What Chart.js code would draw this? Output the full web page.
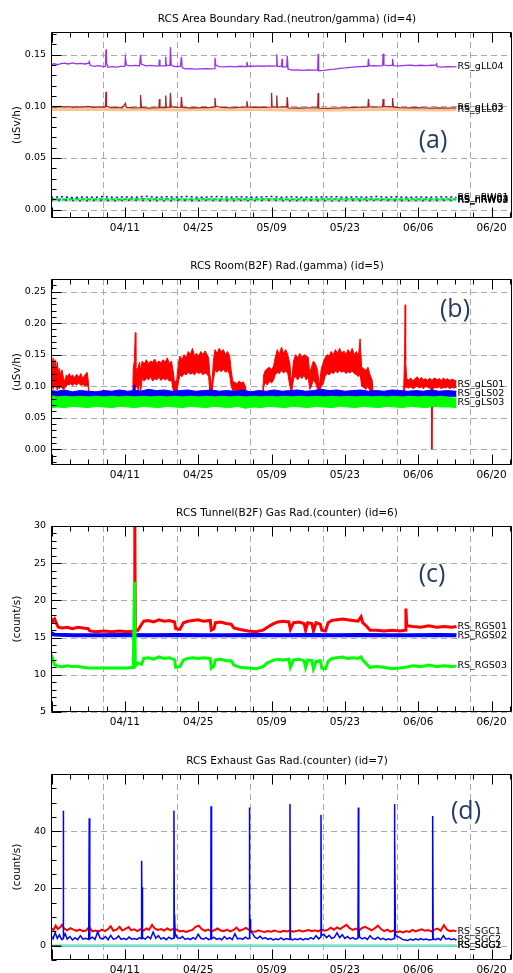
<!DOCTYPE html>
<html>
<head>
<meta charset="utf-8">
<script src="https://cdn.jsdelivr.net/npm/chart.js@4.4.1/dist/chart.umd.min.js"></script>
<style>
  html, body { margin: 0; padding: 0; background: #fff; width: 513px; height: 973px; overflow: hidden; }
  canvas { position: absolute; left: 0; }
</style>
</head>
<body>
<canvas id="chartA" width="513" height="248" style="top:0"></canvas>
<canvas id="chartB" width="513" height="248" style="top:247px"></canvas>
<canvas id="chartC" width="513" height="248" style="top:494px"></canvas>
<canvas id="chartD" width="513" height="248" style="top:742px"></canvas>
<script>
// ---- time axis (days counted from 04/01) ----
const X_MIN = -4.1, X_MAX = 83.9;
const xTickDays = [10, 24, 38, 52, 66, 80];
const xTickLabels = ['04/11', '04/25', '05/09', '05/23', '06/06', '06/20'];
const gridDays = [5.9, 19.9, 33.9, 47.9, 61.9, 75.9];

// ---- (a) area boundary, uSv/h : [day, value] ----
const gLL04 = [[-4.1,0.1405],[-3.5,0.1412],[-2.8,0.1404],[-2.2,0.1414],[-1.5,0.1418],[-0.8,0.1410],[0,0.1420],[0.8,0.1412],[1.5,0.1416],[2.4,0.1410],[3.1,0.1418],[3.2,0.1432],[3.4,0.1395],[4.2,0.1388],[5.0,0.1394],[5.9,0.1385],[6.3,0.1386],[6.4,0.1550],[6.5,0.1420],[6.8,0.1378],[7.6,0.1384],[8.4,0.1380],[9.2,0.1386],[10.0,0.1388],[10.1,0.1470],[10.3,0.1400],[11.0,0.1392],[12.0,0.1396],[12.8,0.1392],[13.0,0.1500],[13.15,0.1410],[14.0,0.1392],[15.0,0.1396],[16.0,0.1390],[16.5,0.1392],[16.6,0.1452],[16.7,0.1395],[17.7,0.1392],[17.8,0.1480],[17.9,0.1398],[18.6,0.1395],[18.7,0.1575],[18.85,0.1400],[19.5,0.1385],[20.6,0.1388],[20.8,0.1480],[20.95,0.1375],[21.5,0.1362],[22.5,0.1366],[23.5,0.1360],[24.5,0.1363],[25.5,0.1366],[26.5,0.1362],[27.1,0.1365],[27.2,0.1470],[27.35,0.1400],[28.0,0.1385],[29.0,0.1382],[30.0,0.1386],[31.0,0.1382],[32.0,0.1388],[33.2,0.1385],[33.3,0.1430],[33.45,0.1390],[34.5,0.1388],[35.5,0.1392],[36.5,0.1388],[37.5,0.1392],[38.5,0.1390],[38.9,0.1395],[39.0,0.1503],[39.1,0.1385],[39.9,0.1390],[40.0,0.1460],[40.1,0.1380],[40.9,0.1385],[41.0,0.1490],[41.15,0.1360],[42.0,0.1350],[43.0,0.1353],[44.0,0.1348],[45.0,0.1352],[46.0,0.1350],[46.8,0.1352],[46.9,0.1510],[47.0,0.1345],[48.0,0.1348],[49.0,0.1355],[50.0,0.1360],[51.0,0.1368],[52.0,0.1372],[53.0,0.1378],[54.0,0.1382],[55.0,0.1385],[56.4,0.1388],[56.5,0.1460],[56.65,0.1392],[57.5,0.1395],[58.5,0.1392],[59.2,0.1395],[59.3,0.1510],[59.45,0.1400],[60.3,0.1395],[61.0,0.1398],[61.1,0.1460],[61.25,0.1395],[62.5,0.1392],[63.5,0.1396],[64.5,0.1398],[65.5,0.1395],[66.5,0.1398],[67.5,0.1395],[68.5,0.1398],[69.4,0.1400],[69.5,0.1420],[69.6,0.1385],[70.5,0.1380],[71.5,0.1385],[72.5,0.1382],[73.3,0.1385]];
const gLL03 = [[-4.1,0.0995],[-3.2,0.0990],[-2.4,0.0998],[-1.6,0.0992],[-0.8,0.0996],[0,0.0990],[1,0.0995],[2,0.0992],[3,0.0998],[4,0.0990],[5,0.0994],[6.3,0.0992],[6.4,0.1140],[6.5,0.1000],[7.5,0.0985],[8.5,0.0990],[9.5,0.0986],[10.1,0.1030],[10.3,0.0990],[11.5,0.0985],[12.9,0.0988],[13.0,0.1110],[13.15,0.0990],[14.5,0.0982],[15.5,0.0985],[16.5,0.0988],[16.6,0.1070],[16.7,0.0990],[17.7,0.0988],[17.8,0.1105],[17.9,0.0992],[18.6,0.0990],[18.7,0.1130],[18.85,0.0995],[19.8,0.0990],[20.7,0.0992],[20.8,0.1090],[20.95,0.0990],[22,0.0985],[23,0.0988],[24,0.0985],[25,0.0990],[26,0.0988],[27.1,0.0992],[27.2,0.1080],[27.35,0.1000],[28.5,0.0990],[29.5,0.0988],[30.5,0.0985],[31.5,0.0990],[33.2,0.0992],[33.3,0.1050],[33.45,0.0995],[34.5,0.0990],[35.5,0.0992],[36.5,0.0990],[37.9,0.0992],[38.0,0.1130],[38.1,0.0995],[38.9,0.0992],[39.0,0.1105],[39.1,0.0990],[40,0.0995],[40.9,0.0992],[41.0,0.1090],[41.15,0.0985],[42,0.0982],[43,0.0985],[44,0.0982],[45,0.0985],[46.8,0.0985],[46.9,0.1130],[47.0,0.0982],[48.5,0.0980],[50,0.0982],[51.5,0.0985],[53,0.0988],[54.5,0.0990],[56.4,0.0992],[56.5,0.1070],[56.65,0.0995],[57.5,0.0992],[59.2,0.0995],[59.3,0.1070],[59.45,0.0998],[61.0,0.0995],[61.1,0.1080],[61.25,0.0992],[62.5,0.0988],[64,0.0985],[65.5,0.0988],[67,0.0985],[68.5,0.0982],[70,0.0985],[71.5,0.0982],[73.3,0.0985]];
const gLL02 = [[-4.1,0.0970],[0,0.0968],[5,0.0970],[10,0.0966],[15,0.0968],[20,0.0965],[25,0.0968],[30,0.0966],[35,0.0968],[40,0.0965],[45,0.0963],[50,0.0965],[55,0.0967],[60,0.0968],[65,0.0966],[70,0.0965],[73.3,0.0966]];
const nRW01 = [[-4.1,0.0118],[-2,0.0125],[0,0.0115],[2,0.0122],[4,0.0118],[6,0.0126],[8,0.0117],[10,0.0123],[12,0.0119],[14,0.0128],[16,0.0118],[18,0.0124],[20,0.0120],[22,0.0127],[24,0.0118],[26,0.0123],[28,0.0126],[30,0.0119],[32,0.0124],[34,0.0118],[36,0.0122],[38,0.0127],[40,0.0119],[42,0.0124],[44,0.0118],[46,0.0122],[48,0.0120],[50,0.0125],[52,0.0118],[54,0.0123],[56,0.0119],[58,0.0126],[60,0.0120],[62,0.0124],[64,0.0118],[66,0.0122],[68,0.0119],[70,0.0123],[73.3,0.0120]];
const nRW02 = [[-4.1,0.0086],[-1,0.0090],[2,0.0084],[5,0.0088],[8,0.0085],[11,0.0090],[14,0.0086],[17,0.0083],[20,0.0088],[23,0.0085],[26,0.0090],[29,0.0084],[32,0.0087],[35,0.0085],[38,0.0089],[41,0.0084],[44,0.0088],[47,0.0086],[50,0.0083],[53,0.0087],[56,0.0085],[59,0.0089],[62,0.0084],[65,0.0087],[68,0.0085],[71,0.0088],[73.3,0.0086]];
const nRW03 = [[-4.1,0.0101],[-1.5,0.0098],[1,0.0103],[3.5,0.0099],[6,0.0102],[8.5,0.0097],[11,0.0101],[13.5,0.0104],[16,0.0099],[18.5,0.0102],[21,0.0098],[23.5,0.0101],[26,0.0103],[28.5,0.0099],[31,0.0102],[33.5,0.0098],[36,0.0101],[38.5,0.0104],[41,0.0099],[43.5,0.0101],[46,0.0098],[48.5,0.0102],[51,0.0100],[53.5,0.0103],[56,0.0099],[58.5,0.0101],[61,0.0098],[63.5,0.0102],[66,0.0100],[68.5,0.0099],[71,0.0101],[73.3,0.0100]];
const nRW04 = [[-4.1,0.0094],[5,0.0093],[15,0.0095],[25,0.0093],[35,0.0094],[45,0.0093],[55,0.0095],[65,0.0093],[73.3,0.0094]];

// ---- (b) room B2F, uSv/h : [day, low, high] of the noise band ----
const gLS01 = [[-4.1,0.092,0.140],[-3.9,0.100,0.128],[-3.7,0.095,0.145],[-3.5,0.102,0.130],[-3.3,0.098,0.142],[-3.1,0.100,0.125],[-2.9,0.094,0.138],[-2.7,0.099,0.120],[-2.5,0.096,0.128],[-2.3,0.100,0.118],[-2.0,0.097,0.126],[-1.7,0.095,0.112],[-1.4,0.098,0.108],[-1.2,0.100,0.118],[-0.9,0.103,0.115],[-0.6,0.102,0.120],[-0.3,0.104,0.114],[0,0.101,0.118],[0.4,0.104,0.113],[0.8,0.102,0.119],[1.2,0.105,0.114],[1.6,0.101,0.120],[2.0,0.103,0.112],[2.4,0.100,0.118],[2.8,0.102,0.122],[3.0,0.098,0.110],[3.2,0.076,0.086],[5,0.075,0.087],[7,0.074,0.086],[9,0.076,0.087],[11.5,0.075,0.086],[11.6,0.090,0.128],[11.8,0.095,0.140],[12.0,0.100,0.185],[12.1,0.098,0.130],[12.3,0.100,0.125],[12.6,0.092,0.132],[12.8,0.110,0.138],[13.0,0.090,0.125],[13.3,0.112,0.140],[13.7,0.108,0.135],[14.1,0.113,0.142],[14.5,0.110,0.136],[14.9,0.115,0.140],[15.3,0.108,0.138],[15.7,0.112,0.143],[16.1,0.110,0.136],[16.5,0.114,0.140],[16.9,0.109,0.137],[17.3,0.113,0.142],[17.7,0.110,0.138],[18.1,0.112,0.145],[18.5,0.108,0.136],[18.9,0.110,0.140],[19.2,0.095,0.125],[19.5,0.088,0.105],[19.9,0.090,0.110],[20.2,0.105,0.135],[20.5,0.118,0.148],[20.9,0.115,0.142],[21.3,0.120,0.150],[21.7,0.118,0.145],[22.1,0.122,0.155],[22.5,0.119,0.150],[22.9,0.121,0.160],[23.3,0.118,0.148],[23.7,0.123,0.152],[24.1,0.120,0.148],[24.5,0.122,0.155],[24.9,0.118,0.150],[25.3,0.121,0.156],[25.7,0.119,0.150],[26.0,0.115,0.145],[26.2,0.092,0.120],[26.6,0.088,0.100],[26.9,0.110,0.140],[27.2,0.125,0.158],[27.6,0.122,0.152],[28.0,0.126,0.160],[28.4,0.123,0.155],[28.8,0.127,0.158],[29.2,0.122,0.150],[29.6,0.125,0.155],[30.0,0.118,0.148],[30.3,0.100,0.125],[30.6,0.093,0.108],[31.0,0.092,0.106],[31.4,0.094,0.104],[31.8,0.091,0.108],[32.2,0.093,0.105],[32.6,0.092,0.107],[33.0,0.090,0.100],[33.2,0.076,0.087],[35,0.075,0.086],[36.3,0.076,0.087],[36.5,0.100,0.118],[36.8,0.105,0.125],[37.2,0.102,0.128],[37.6,0.108,0.130],[38.0,0.105,0.126],[38.4,0.110,0.132],[38.7,0.118,0.145],[39.1,0.122,0.158],[39.5,0.120,0.150],[39.9,0.125,0.162],[40.3,0.121,0.152],[40.7,0.124,0.158],[41.1,0.120,0.150],[41.5,0.100,0.135],[41.8,0.088,0.105],[42.2,0.112,0.140],[42.6,0.115,0.150],[43.0,0.110,0.145],[43.4,0.116,0.152],[43.8,0.112,0.145],[44.2,0.118,0.150],[44.6,0.110,0.148],[45.0,0.114,0.146],[45.3,0.095,0.120],[45.6,0.100,0.130],[46.0,0.110,0.140],[46.4,0.105,0.135],[46.8,0.095,0.125],[47.1,0.088,0.100],[47.5,0.100,0.128],[47.9,0.105,0.138],[48.2,0.115,0.145],[48.6,0.120,0.150],[49.0,0.118,0.148],[49.4,0.122,0.155],[49.8,0.120,0.150],[50.2,0.124,0.158],[50.6,0.121,0.152],[51.0,0.125,0.160],[51.4,0.122,0.152],[51.8,0.124,0.156],[52.2,0.120,0.150],[52.6,0.123,0.158],[53.0,0.121,0.152],[53.4,0.124,0.160],[53.8,0.120,0.150],[54.2,0.118,0.155],[54.6,0.115,0.148],[54.9,0.120,0.175],[55.2,0.100,0.130],[55.6,0.098,0.128],[56.0,0.095,0.125],[56.4,0.100,0.130],[56.8,0.092,0.118],[57.2,0.090,0.110],[57.4,0.076,0.087],[60,0.075,0.086],[63.2,0.076,0.087],[63.4,0.095,0.150],[63.5,0.098,0.229],[63.6,0.100,0.140],[63.8,0.098,0.112],[64.2,0.097,0.110],[64.6,0.099,0.113],[65.0,0.096,0.108],[65.4,0.098,0.112],[65.8,0.100,0.115],[66.2,0.097,0.110],[66.6,0.099,0.114],[67.0,0.096,0.110],[67.4,0.100,0.112],[67.8,0.098,0.109],[68.2,0.097,0.113],[68.5,0.096,0.110],[68.6,0.000,0.108],[68.7,0.065,0.110],[68.8,0.096,0.111],[69.2,0.098,0.113],[69.6,0.097,0.110],[70.0,0.099,0.112],[70.4,0.096,0.109],[70.8,0.098,0.113],[71.2,0.097,0.110],[71.6,0.099,0.112],[72.0,0.096,0.109],[72.4,0.098,0.111],[72.8,0.097,0.110],[73.3,0.098,0.108]];
const gLS02 = [[-4.1,0.082,0.093],[-3,0.084,0.092],[-1.5,0.083,0.094],[0,0.084,0.091],[1.5,0.083,0.093],[3,0.084,0.092],[4.5,0.083,0.091],[6,0.084,0.093],[7.5,0.083,0.092],[9,0.084,0.094],[10.5,0.083,0.092],[11.7,0.084,0.093],[11.8,0.085,0.102],[11.9,0.084,0.094],[13,0.083,0.092],[14.5,0.084,0.095],[16,0.083,0.093],[17.5,0.084,0.094],[19,0.083,0.092],[20.5,0.084,0.093],[22,0.083,0.094],[23.5,0.084,0.092],[25,0.083,0.093],[26.5,0.084,0.094],[28,0.083,0.092],[29.5,0.084,0.093],[31,0.083,0.092],[32.5,0.084,0.094],[34,0.083,0.091],[35.5,0.084,0.093],[37,0.083,0.092],[38.5,0.084,0.094],[40,0.083,0.092],[41.5,0.084,0.093],[43,0.083,0.094],[44.5,0.084,0.092],[46,0.083,0.093],[47.5,0.084,0.095],[49,0.083,0.093],[50.5,0.084,0.094],[52,0.083,0.092],[53.5,0.084,0.093],[55,0.083,0.094],[56.5,0.084,0.092],[58,0.083,0.093],[59.5,0.084,0.092],[61,0.083,0.094],[62.5,0.084,0.093],[64,0.083,0.092],[65.5,0.084,0.093],[67,0.083,0.092],[68.5,0.084,0.094],[70,0.083,0.092],[71.5,0.084,0.093],[73.3,0.084,0.092]];
const gLS03 = [[-4.1,0.065,0.085],[-3,0.067,0.083],[-1.5,0.066,0.084],[0,0.068,0.083],[1.5,0.067,0.084],[3,0.066,0.083],[4.5,0.068,0.084],[6,0.067,0.083],[7.5,0.066,0.084],[9,0.068,0.083],[10.5,0.067,0.084],[12,0.066,0.083],[13.5,0.068,0.084],[15,0.067,0.083],[16.5,0.066,0.084],[18,0.068,0.083],[19.5,0.067,0.084],[21,0.066,0.083],[22.5,0.068,0.084],[24,0.067,0.083],[25.5,0.066,0.084],[27,0.068,0.083],[28.5,0.067,0.084],[30,0.066,0.083],[31.5,0.068,0.084],[33,0.065,0.083],[34.5,0.067,0.084],[36,0.066,0.083],[37.5,0.068,0.084],[39,0.067,0.083],[40.5,0.066,0.084],[42,0.068,0.083],[43.5,0.067,0.084],[45,0.066,0.083],[46.5,0.068,0.084],[48,0.067,0.083],[49.5,0.066,0.084],[51,0.068,0.083],[52.5,0.067,0.084],[54,0.066,0.083],[55.5,0.068,0.084],[57,0.067,0.083],[58.5,0.066,0.084],[60,0.068,0.083],[61.5,0.067,0.084],[63,0.066,0.083],[64.5,0.068,0.084],[66,0.067,0.083],[67.5,0.066,0.084],[69,0.068,0.083],[70.5,0.067,0.084],[72,0.067,0.082],[73.3,0.066,0.081]];

// ---- (c) tunnel B2F gas monitor, count/s : [day, value] ----
const RGS01 = [[-4.1,17.6],[-3.7,17.2],[-3.4,17.5],[-3.0,16.8],[-2.7,16.4],[-2,16.3],[-1,16.4],[0,16.2],[1,16.4],[2,16.3],[3,16.2],[3.3,15.9],[4.5,15.8],[6,15.9],[7.5,15.8],[9,15.9],[10.5,15.8],[11.8,15.9],[11.9,30],[12.0,16.0],[12.5,16.0],[13.2,16.8],[13.6,17.2],[14.5,17.3],[15.5,17.1],[16.5,17.4],[17.5,17.2],[18.5,17.3],[19.5,17.1],[19.7,16.2],[20.5,16.1],[21.2,17.0],[22,17.2],[23,17.3],[24,17.4],[25,17.2],[26.3,17.3],[26.5,16.0],[27,16.2],[27.3,17.0],[28.3,17.1],[29.3,16.9],[30.3,16.8],[30.8,16.3],[32,16.1],[33.5,15.9],[35,15.8],[36.4,16.0],[37.2,16.4],[38.2,16.8],[39.2,17.1],[40.2,17.2],[41.3,17.1],[41.6,16.1],[42.2,17.0],[43.2,17.1],[44.2,16.9],[44.5,16.0],[44.9,17.0],[45.7,16.9],[46.0,15.9],[46.5,17.0],[47.3,16.8],[47.6,16.0],[48.3,15.9],[48.8,17.0],[49.5,17.3],[50.5,17.4],[51.5,17.5],[52.5,17.4],[53.5,17.3],[54.5,17.2],[55.1,17.8],[55.4,17.0],[56.2,16.5],[56.8,16.0],[58,16.0],[59.5,15.9],[61,16.0],[62.5,15.9],[63.5,16.0],[63.65,18.9],[63.8,16.6],[65,16.5],[66.5,16.4],[68,16.6],[69.5,16.4],[71,16.5],[72.5,16.4],[73.3,16.5]];
const RGS02 = [[-4.1,15.6],[-3.5,15.4],[0,15.3],[5,15.3],[10,15.35],[15,15.3],[20,15.35],[25,15.3],[30,15.3],[35,15.35],[40,15.3],[45,15.35],[50,15.3],[55,15.35],[60,15.3],[65,15.3],[70,15.35],[73.3,15.3]];
const RGS03 = [[-4.1,12.7],[-3.8,12.3],[-3.5,11.4],[-3,11.2],[-2,11.1],[-1,11.2],[0,11.1],[1,11.1],[2,11.0],[3,10.9],[4.5,10.9],[6,10.9],[7.5,10.9],[9,10.9],[10.5,10.9],[11.6,11.0],[11.85,22.5],[12.0,11.2],[12.5,11.6],[13.2,11.4],[13.6,12.2],[14.5,12.3],[15.5,12.1],[16.5,12.4],[17.5,12.2],[18.5,12.3],[19.5,12.0],[19.7,11.0],[20.5,11.1],[21.2,12.0],[22,12.2],[23,12.3],[24,12.2],[25,12.3],[26.3,12.2],[26.5,10.9],[27,11.2],[27.3,12.0],[28.3,12.1],[29.3,11.9],[30.3,11.9],[30.8,11.3],[32,11.0],[33.5,10.9],[35,10.8],[36.4,11.1],[37.2,11.6],[38.2,11.9],[39.2,12.1],[40.2,12.0],[41.3,12.1],[41.6,11.0],[42.2,12.0],[43.2,12.1],[44.2,11.9],[44.5,11.0],[44.9,12.0],[45.7,11.9],[46.0,10.8],[46.5,11.8],[47.3,11.9],[47.6,10.9],[48.3,10.8],[48.8,11.8],[49.5,12.2],[50.5,12.3],[51.5,12.4],[52.5,12.2],[53.5,12.3],[54.5,12.2],[55.1,12.4],[55.4,12.0],[56.2,11.4],[56.8,11.0],[58,11.1],[59.5,11.0],[61,10.8],[62.5,10.9],[63.5,11.0],[65,11.2],[66.5,11.1],[68,11.3],[69.5,11.1],[71,11.2],[72.5,11.1],[73.3,11.2]];

// ---- (d) exhaust gas monitor, count/s : [day, value] ----
const SGC1 = [[-4.1,6.2],[-3.6,5.5],[-3.2,7.0],[-2.8,5.8],[-2.3,6.5],[-2.0,7.3],[-1.6,6.0],[-1.0,5.4],[-0.4,6.1],[0.2,5.6],[0.8,5.2],[1.4,5.6],[2.0,5.1],[2.6,5.3],[3.2,6.5],[3.8,5.0],[4.4,5.3],[5.0,4.9],[5.6,5.6],[6.2,5.1],[6.8,5.8],[7.3,6.8],[7.8,5.2],[8.4,5.6],[9.0,6.6],[9.5,5.3],[10.1,5.9],[10.7,6.5],[11.2,5.4],[11.8,5.7],[12.4,5.1],[13.0,5.8],[13.6,5.3],[14.1,6.0],[14.6,5.5],[15.2,7.3],[15.7,6.0],[16.3,5.5],[16.9,5.8],[17.5,5.3],[18.1,6.0],[18.7,5.4],[19.3,5.9],[19.9,5.6],[20.5,5.0],[21.1,5.2],[21.7,4.8],[22.3,5.2],[22.9,5.5],[23.5,6.6],[24.1,7.0],[24.7,5.8],[25.3,5.2],[25.9,5.6],[26.5,5.1],[27.1,5.4],[27.7,6.0],[28.3,5.3],[28.9,5.1],[29.5,5.6],[30.1,5.0],[30.7,5.4],[31.3,6.3],[31.9,5.2],[32.5,5.6],[33.1,6.2],[33.7,5.5],[34.3,5.0],[34.9,4.9],[35.5,5.4],[36.1,5.0],[36.7,4.8],[37.3,5.1],[37.9,4.9],[38.5,5.3],[39.1,5.0],[39.7,4.8],[40.3,5.2],[40.9,5.0],[41.5,5.3],[42.1,4.9],[42.7,5.1],[43.3,5.4],[43.9,5.0],[44.5,5.2],[45.1,5.5],[45.7,5.1],[46.3,5.4],[46.9,5.0],[47.5,5.6],[48.1,5.2],[48.7,5.5],[49.3,6.3],[49.9,5.6],[50.5,6.4],[51.1,5.8],[51.7,6.6],[52.3,7.3],[52.9,6.1],[53.5,5.5],[54.1,6.0],[54.7,5.3],[55.3,6.2],[55.9,6.6],[56.5,6.0],[57.1,5.4],[57.7,6.1],[58.3,7.0],[58.9,5.8],[59.5,5.1],[60.1,5.6],[60.7,4.9],[61.3,5.3],[61.9,4.7],[62.5,5.0],[63.1,4.6],[63.7,5.1],[64.3,4.8],[64.9,5.5],[65.5,5.0],[66.1,5.4],[66.7,5.7],[67.3,5.2],[67.9,5.5],[68.5,5.0],[69.1,5.6],[69.7,6.0],[70.3,5.2],[70.9,7.2],[71.5,5.6],[72.1,5.1],[72.7,5.3],[73.3,5.0]];
const SGC2 = [[-4.1,3.5],[-3.7,2.4],[-3.3,4.6],[-2.9,2.5],[-2.5,3.8],[-2.1,2.2],[-1.8,2.6],[-1.75,47.2],[-1.7,2.8],[-1.4,4.2],[-1.0,2.3],[-0.5,3.2],[0.0,2.0],[0.5,2.8],[1.0,2.1],[1.5,3.5],[2.0,2.3],[2.5,2.6],[3.1,2.2],[3.2,44.5],[3.3,2.4],[3.8,3.0],[4.3,2.2],[4.8,4.8],[5.3,2.6],[5.8,2.4],[6.3,3.2],[6.8,2.1],[7.3,3.6],[7.8,2.3],[8.3,2.5],[8.8,3.4],[9.3,2.2],[9.8,2.6],[10.3,2.1],[10.8,3.0],[11.3,2.3],[11.8,2.5],[12.3,2.2],[12.8,2.8],[13.15,2.4],[13.2,29.7],[13.28,2.6],[13.33,20.4],[13.4,2.8],[13.9,2.3],[14.4,3.2],[14.9,2.4],[15.4,4.8],[15.9,2.6],[16.4,3.5],[16.9,2.3],[17.4,2.8],[17.9,2.1],[18.4,3.0],[18.9,2.4],[19.3,2.6],[19.37,47.2],[19.45,3.0],[19.5,10.8],[19.6,4.2],[20.0,2.8],[20.5,2.5],[21.0,3.2],[21.5,2.2],[22.0,2.6],[22.5,2.1],[23.0,2.8],[23.5,2.3],[24.0,4.0],[24.5,2.6],[25.0,2.3],[25.5,2.8],[26.0,2.1],[26.4,2.5],[26.45,48.7],[26.55,2.4],[27.0,3.0],[27.5,2.2],[28.0,2.6],[28.5,2.1],[29.0,3.2],[29.5,2.3],[30.0,2.8],[30.5,2.1],[31.0,4.2],[31.5,2.4],[32.0,2.6],[32.5,2.2],[33.0,3.0],[33.5,2.4],[33.7,2.6],[33.76,48.3],[33.85,3.5],[33.9,9.3],[34.0,5.0],[34.4,4.2],[34.8,3.0],[35.3,2.5],[35.8,3.3],[36.3,2.4],[36.8,2.8],[37.3,2.2],[37.8,2.6],[38.3,2.0],[38.8,2.4],[39.3,2.1],[39.8,2.7],[40.3,2.0],[40.8,2.5],[41.45,2.2],[41.52,49.5],[41.6,2.6],[42.0,2.0],[42.5,2.4],[43.0,2.1],[43.5,2.6],[44.0,2.0],[44.5,2.5],[45.0,2.2],[45.5,2.8],[46.0,2.3],[46.5,3.5],[47.0,2.4],[47.38,3.0],[47.44,45.8],[47.52,3.6],[48.0,4.0],[48.5,2.8],[49.0,3.6],[49.5,2.5],[50.0,3.0],[50.5,4.5],[51.0,2.8],[51.5,3.8],[52.0,2.5],[52.5,3.2],[53.0,2.4],[53.5,2.8],[54.0,2.3],[54.5,2.6],[54.57,48.3],[54.65,7.0],[54.8,3.0],[55.3,2.4],[55.8,2.8],[56.3,2.2],[56.8,3.5],[57.3,2.5],[57.8,2.3],[58.3,3.0],[58.8,2.2],[59.3,2.6],[59.8,2.0],[60.3,2.4],[60.8,2.1],[61.38,2.5],[61.44,49.5],[61.5,3.0],[61.56,38.5],[61.65,3.6],[62.0,3.2],[62.5,2.8],[63.0,2.2],[63.5,2.0],[64.0,1.8],[64.5,2.3],[65.0,1.9],[65.5,2.4],[66.0,2.0],[66.5,2.5],[67.0,2.1],[67.5,2.3],[68.0,2.0],[68.7,2.2],[68.76,45.3],[68.85,2.4],[69.3,2.1],[69.8,2.6],[70.3,2.0],[70.8,3.5],[71.3,2.3],[71.8,2.6],[72.3,2.1],[72.8,2.4],[73.3,2.0]];
const SGG1 = [[-2.1,0],[73.3,0]];
const SGG2 = [[-4.1,0],[73.3,0]];

// ---- helpers ----
const TEXT_FONT = 'DejaVu Sans';
const TITLE_X = 287;
const col = (arr, k) => arr.map(p => ({ x: p[0], y: p[k] }));

function line(data, color, width, extra) {
  return Object.assign({ data: col(data, 1), borderColor: color, backgroundColor: color,
    borderWidth: width, pointRadius: 0, fill: false, tension: 0 }, extra || {});
}
// noise band: low edge, then high edge filled down to it
function band(data, color, tag) {
  return [
    { data: col(data, 1), borderColor: color, borderWidth: 1, pointRadius: 0, fill: false },
    { data: col(data, 2), borderColor: color, backgroundColor: color, borderWidth: 1, pointRadius: 0, fill: '-1', tag: tag }
  ];
}

// IDL-style frame: dashed grid, boxed axes with inward ticks, trace names, panel letter
const idlFrame = {
  id: 'idlFrame',
  beforeDatasetsDraw(chart) {
    const { ctx, chartArea: a, scales: { x, y } } = chart;
    ctx.save();
    ctx.strokeStyle = '#aaaaaa';
    ctx.lineWidth = 1;
    ctx.setLineDash([6, 4]);
    ctx.beginPath();
    gridDays.forEach(d => {
      const px = Math.round(x.getPixelForValue(d)) + 0.5;
      ctx.moveTo(px, a.top); ctx.lineTo(px, a.bottom);
    });
    y.ticks.forEach(t => {
      const py = Math.round(y.getPixelForValue(t.value)) + 0.5;
      ctx.moveTo(a.left, py); ctx.lineTo(a.right, py);
    });
    ctx.stroke();
    ctx.restore();
  },
  afterDatasetsDraw(chart, args, o) {
    const { ctx, chartArea: a, scales: { x, y } } = chart;
    const L = Math.round(a.left) + 0.5, R = Math.round(a.right) - 0.5;
    const T = Math.round(a.top) + 0.5, B = Math.round(a.bottom) - 0.5;
    ctx.save();
    ctx.strokeStyle = '#000';
    ctx.lineWidth = 1;
    ctx.beginPath();
    ctx.rect(L, T, R - L, B - T);
    // day ticks every 3.5 days, long ones at the labelled dates
    for (let k = -8; ; k++) {
      const d = xTickDays[0] + k * 3.5;
      if (d > x.max) break;
      if (d < x.min) continue;
      const len = k % 4 === 0 ? 10 : 5;
      const px = Math.round(x.getPixelForValue(d)) + 0.5;
      ctx.moveTo(px, B); ctx.lineTo(px, B - len);
      ctx.moveTo(px, T); ctx.lineTo(px, T + len);
    }
    const st = o.yMinor;
    for (let k = Math.ceil(y.min / st - 1e-6); k * st <= y.max + 1e-9; k++) {
      const v = k * st;
      const major = y.ticks.some(t => Math.abs(t.value - v) < st / 100);
      const py = Math.round(y.getPixelForValue(v)) + 0.5;
      ctx.moveTo(L, py); ctx.lineTo(L + (major ? 10 : 5), py);
    }
    ctx.stroke();
    ctx.restore();
  },
  afterDraw(chart, args, o) {
    const { ctx, chartArea: a } = chart;
    ctx.save();
    ctx.fillStyle = '#000';
    ctx.textBaseline = 'middle';
    ctx.textAlign = 'center';
    ctx.font = '10.5px "' + TEXT_FONT + '"';
    ctx.fillText(o.title, TITLE_X, a.top - 12.7);

    ctx.textAlign = 'left';
    ctx.font = '9.5px "' + TEXT_FONT + '"';
    chart.data.datasets.forEach((ds, i) => {
      if (!ds.tag) return;
      const pts = chart.getDatasetMeta(i).data;
      const last = pts[pts.length - 1];
      let ty = last.y;
      if (ds.fill === '-1') {
        const prev = chart.getDatasetMeta(i - 1).data;
        ty = (ty + prev[prev.length - 1].y) / 2;
      }
      ctx.fillText(ds.tag, last.x + 1, ty);
    });

    ctx.textAlign = 'center';
    ctx.fillStyle = '#25396a';
    ctx.font = '25px "Open Sans"';
    ctx.fillText(o.letter, o.letterX, o.letterY);
    ctx.restore();
  }
};

function makePanel(id, p) {
  // later traces are plotted over earlier ones
  p.datasets.forEach((ds, i) => { ds.order = p.datasets.length - i; });
  return new Chart(document.getElementById(id), {
    type: 'line',
    data: { datasets: p.datasets },
    options: {
      responsive: false,
      animation: false,
      events: [],
      layout: { padding: { top: 32, right: 1, bottom: 0, left: 0 } },
      scales: {
        x: {
          type: 'linear', min: X_MIN, max: X_MAX,
          afterBuildTicks: s => { s.ticks = xTickDays.map(v => ({ value: v })); },
          afterFit: s => { s.height = 30; },
          grid: { display: false, drawTicks: false },
          border: { display: false },
          ticks: {
            autoSkip: false, maxRotation: 0, padding: 4, color: '#000',
            font: { family: TEXT_FONT, size: 10.5 },
            callback: (v, i) => xTickLabels[i]
          }
        },
        y: {
          type: 'linear', min: p.yMin, max: p.yMax,
          afterBuildTicks: s => { s.ticks = p.yMajor.map(v => ({ value: v })); },
          afterFit: s => { s.width = 51; },
          grid: { display: false, drawTicks: false },
          border: { display: false },
          title: {
            display: true, text: p.yTitle, color: '#000',
            font: { family: TEXT_FONT, size: 10.5 }, padding: { top: 10.7, bottom: 0 }
          },
          ticks: {
            padding: 5, color: '#000',
            font: { family: TEXT_FONT, size: 9.5 },
            callback: v => v.toFixed(p.yDigits)
          }
        }
      },
      plugins: {
        legend: { display: false },
        tooltip: { enabled: false },
        idlFrame: { title: p.title, letter: p.letter, letterX: p.letterX, letterY: p.letterY, yMinor: p.yMinor }
      }
    },
    plugins: [idlFrame]
  });
}

makePanel('chartA', {
  title: 'RCS Area Boundary Rad.(neutron/gamma) (id=4)',
  yTitle: '(uSv/h)', yMin: -0.0082, yMax: 0.172, yMajor: [0, 0.05, 0.10, 0.15], yMinor: 0.01, yDigits: 2,
  letter: '(a)', letterX: 433, letterY: 141,
  datasets: [
    line(nRW04, '#5ef0cc', 3.5, { tag: 'RS_nRW04' }),
    line(nRW03, '#00e000', 1.5, { tag: 'RS_nRW03', borderDash: [4, 2] }),
    line(nRW02, '#ff0000', 1.5, { tag: 'RS_nRW02', borderDash: [2, 5] }),
    line(nRW01, '#0000ff', 1.5, { tag: 'RS_nRW01', borderDash: [2, 3] }),
    line(gLL02, '#f7c690', 3, { tag: 'RS_gLL02' }),
    line(gLL03, '#a82424', 1.3, { tag: 'RS_gLL03' }),
    line(gLL04, '#9933e6', 1.3, { tag: 'RS_gLL04' })
  ]
});

makePanel('chartB', {
  title: 'RCS Room(B2F) Rad.(gamma) (id=5)',
  yTitle: '(uSv/h)', yMin: -0.025, yMax: 0.27, yMajor: [0, 0.05, 0.10, 0.15, 0.20, 0.25], yMinor: 0.01, yDigits: 2,
  letter: '(b)', letterX: 455, letterY: 63,
  datasets: [
    ...band(gLS01, '#ff0000', 'RS_gLS01'),
    ...band(gLS02, '#0000ff', 'RS_gLS02'),
    ...band(gLS03, '#00ff00', 'RS_gLS03')
  ]
});

makePanel('chartC', {
  title: 'RCS Tunnel(B2F) Gas Rad.(counter) (id=6)',
  yTitle: '(count/s)', yMin: 5, yMax: 30, yMajor: [5, 10, 15, 20, 25, 30], yMinor: 1, yDigits: 0,
  letter: '(c)', letterX: 432, letterY: 81,
  datasets: [
    line(RGS01, '#ff0000', 3, { tag: 'RS_RGS01' }),
    line(RGS02, '#0000ff', 4, { tag: 'RS_RGS02' }),
    line(RGS03, '#00ff00', 3, { tag: 'RS_RGS03' })
  ]
});

makePanel('chartD', {
  title: 'RCS Exhaust Gas Rad.(counter) (id=7)',
  yTitle: '(count/s)', yMin: -5, yMax: 60, yMajor: [0, 20, 40], yMinor: 5, yDigits: 0,
  letter: '(d)', letterX: 466, letterY: 70,
  datasets: [
    line(SGG2, '#2b7a68', 2, { tag: 'RS_SGG2' }),
    line(SGG1, '#70ecd0', 2, { tag: 'RS_SGG1' }),
    line(SGC1, '#ff0000', 2, { tag: 'RS_SGC1' }),
    line(SGC2, '#0000ff', 1.5, { tag: 'RS_SGC2' })
  ]
});
</script>
</body>
</html>
